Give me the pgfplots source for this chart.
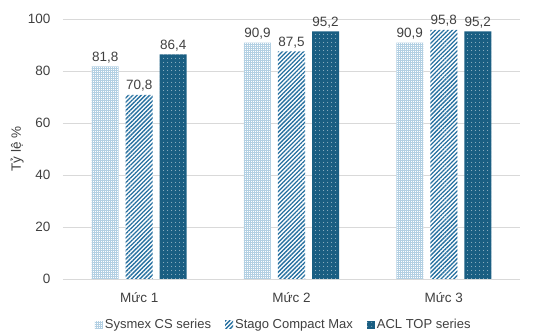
\documentclass[border=0pt]{standalone}
\usepackage{fontspec}
\setmainfont{Liberation Sans}
\usepackage{pgfplots}
\pgfplotsset{compat=1.18}
\usetikzlibrary{patterns,patterns.meta}
\definecolor{sysA}{HTML}{B3D0E3}
\definecolor{stagoC}{HTML}{2670A0}
\definecolor{aclC}{HTML}{1A5E82}
\definecolor{txt}{HTML}{404040}
\definecolor{gridc}{HTML}{D9D9D9}
\begin{document}
\begin{tikzpicture}[font=\fontsize{13.5}{15}\selectfont]
\useasboundingbox (-63pt,-55pt) rectangle (484pt,279pt);
\begin{axis}[
  scale only axis, width=457pt, height=260pt,
  xmin=-0.5, xmax=2.5, ymin=0, ymax=100,
  ytick={0,20,40,60,80,100},
  xtick={0,1,2}, xticklabels={Mức 1,Mức 2,Mức 3},
  major tick length=0pt,
  axis line style={draw=none},
  ymajorgrids, grid style={gridc, line width=0.8pt},
  ybar, bar width=27pt,
  ylabel={Tỷ lệ \%},
  ylabel style={at={(axis description cs:-0.1,0.5)}, anchor=center, text=txt},
  yticklabel style={xshift=-9pt, text=txt},
  xticklabel style={yshift=-10pt, text=txt},
  /pgf/number format/assume math mode=true,
  nodes near coords,
  nodes near coords style={text=txt, /pgf/number format/.cd, fixed, fixed zerofill, precision=1, use comma},
  legend style={at={(axis description cs:0.483,0)}, anchor=center, yshift=-46pt, draw=none, legend columns=3,
    /tikz/every even column/.append style={column sep=12pt}, text=txt, font=\fontsize{13}{15}\selectfont},
  legend image code/.code={\draw[#1, draw=none] (0pt,-4pt) rectangle (8pt,4pt);},
]
\addplot[draw=none, fill=white, bar shift=-34pt,
  postaction={pattern={Hatch[distance=2pt, angle=0, line width=0.9pt]}, pattern color=sysA}]
  coordinates {(0,81.8) (1,90.9) (2,90.9)};
\addplot[draw=none, fill=white, bar shift=0pt,
  postaction={pattern={Lines[distance=3pt, angle=45, line width=1.3pt]}, pattern color=stagoC}]
  coordinates {(0,70.8) (1,87.5) (2,95.8)};
\addplot[draw=none, fill=aclC, bar shift=34pt,
  postaction={pattern={Dots[distance=4pt, radius=0.55pt]}, pattern color=white!85!aclC}]
  coordinates {(0,86.4) (1,95.2) (2,95.2)};
\legend{Sysmex CS series, Stago Compact Max, ACL TOP series}
\end{axis}
\end{tikzpicture}
\end{document}
